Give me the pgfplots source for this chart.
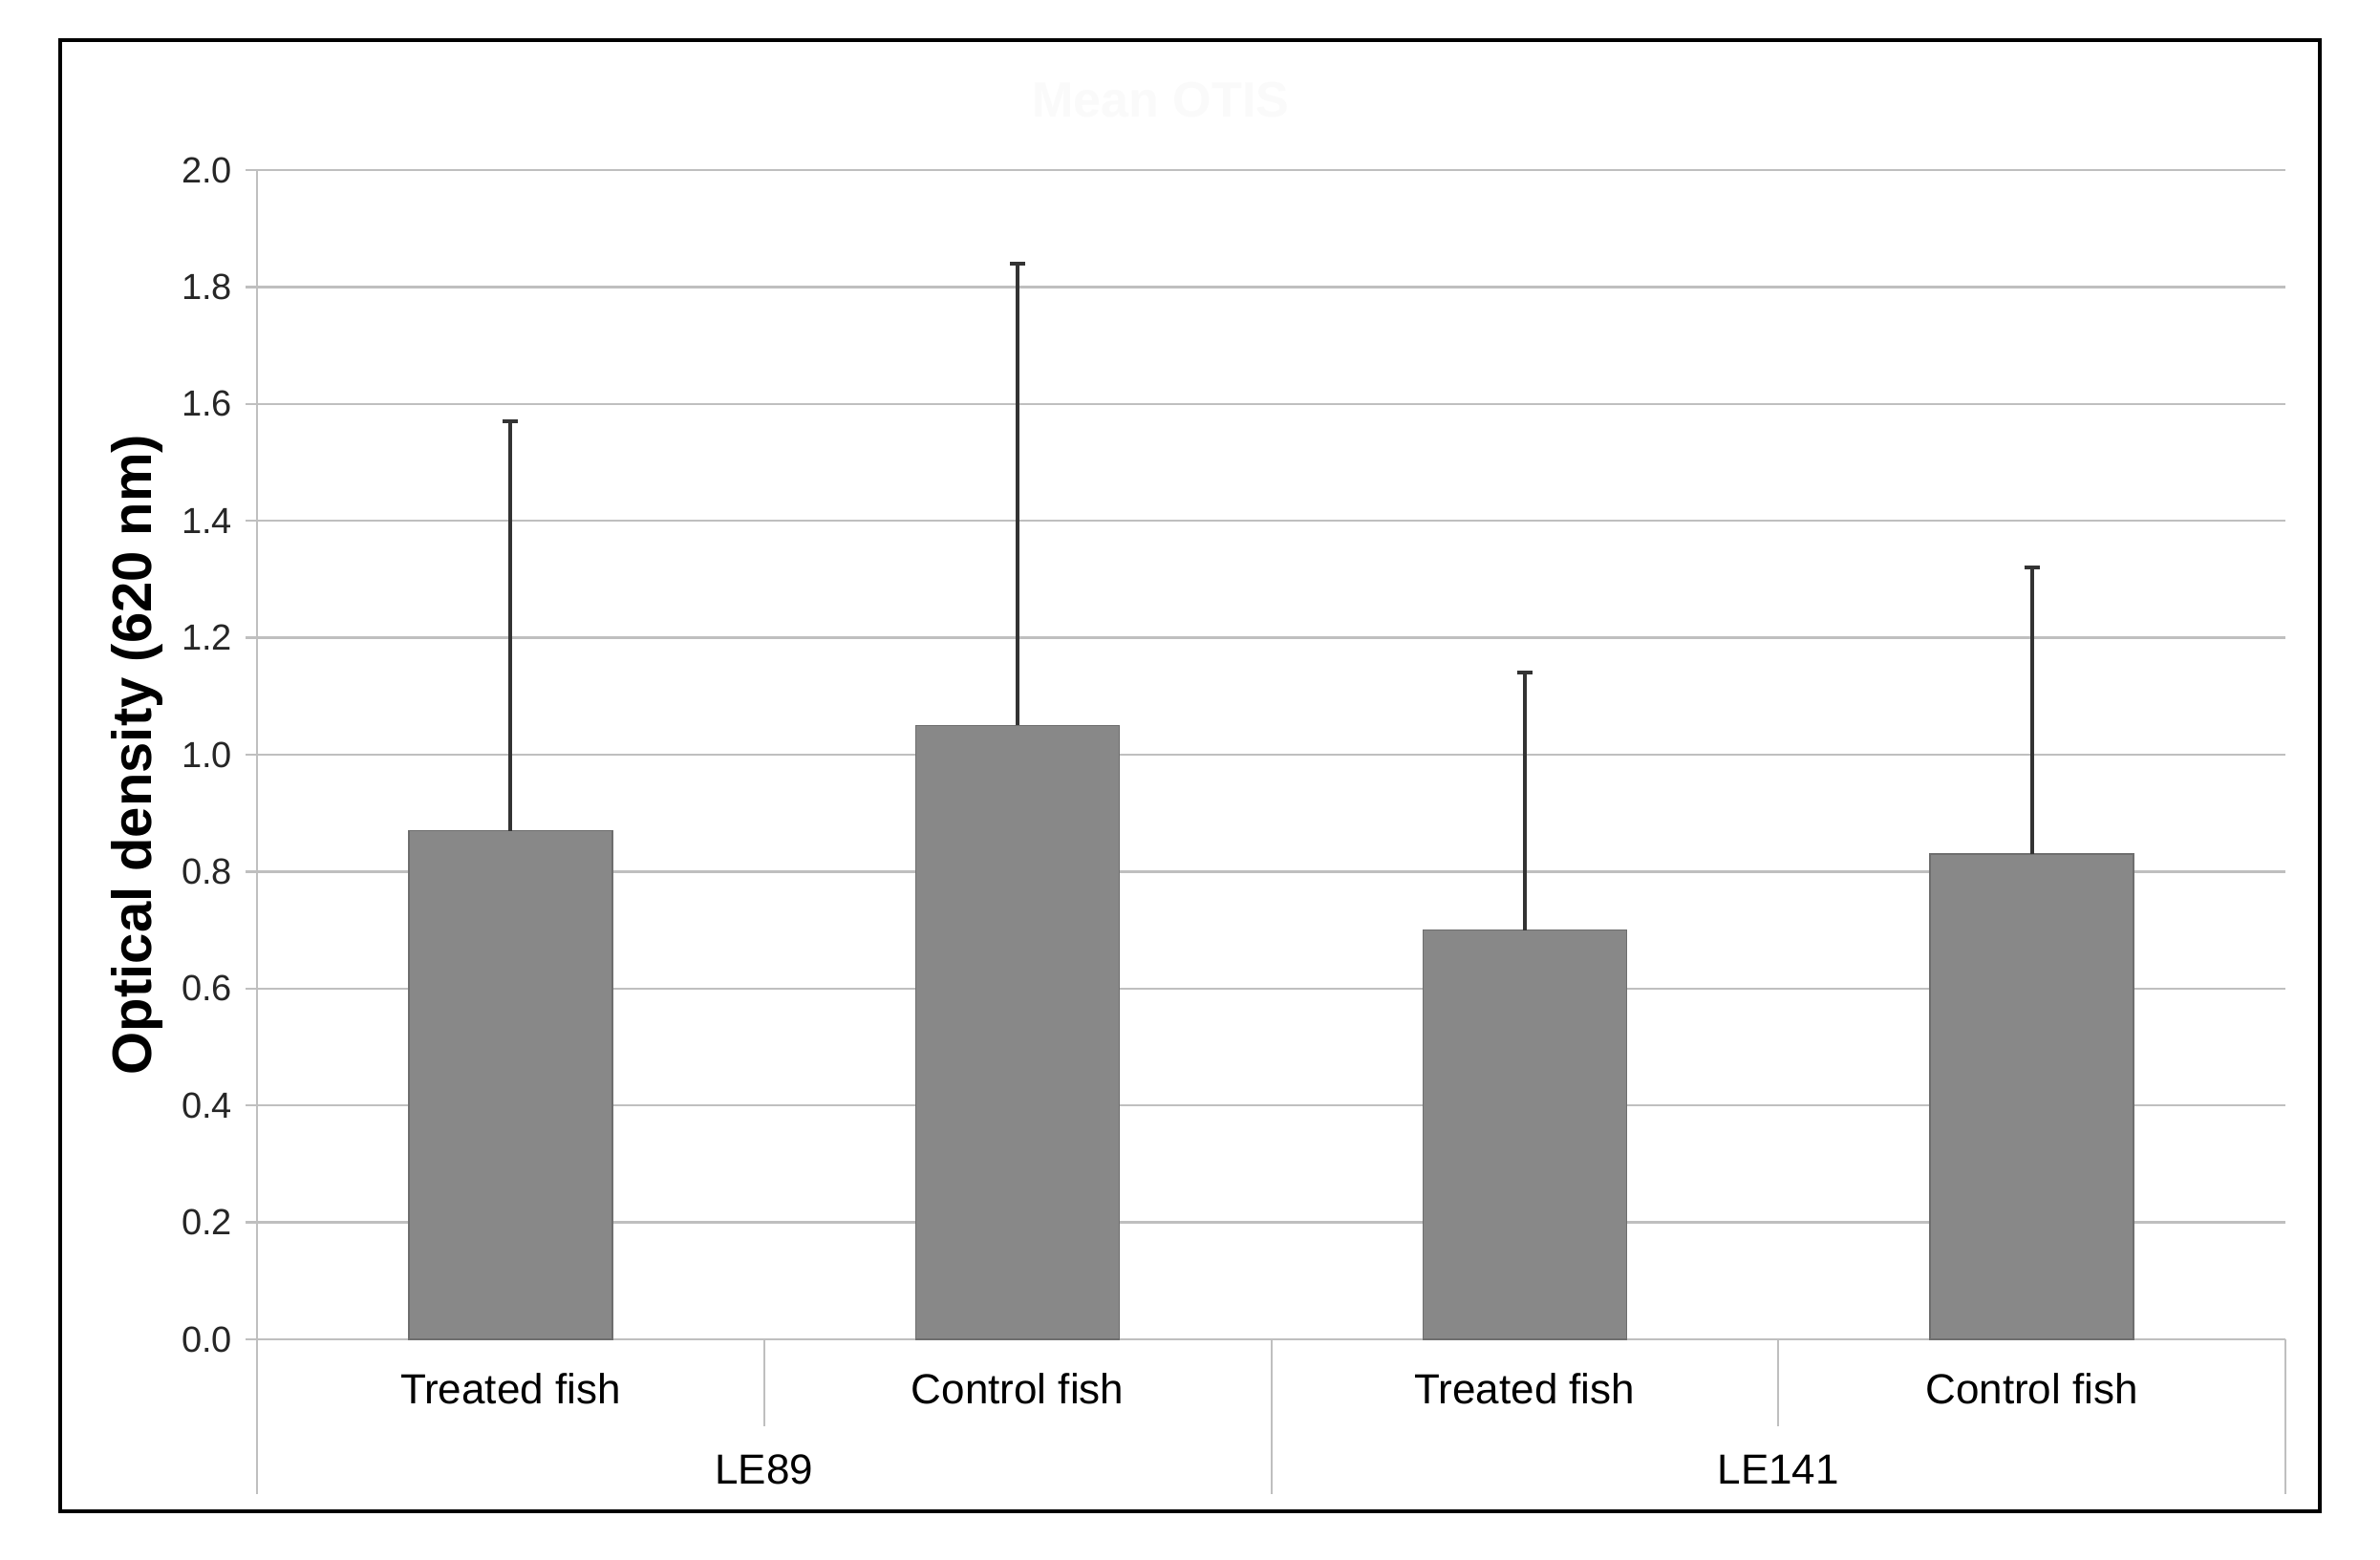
\documentclass[border=0pt]{standalone}
\usepackage{pgfplots}
\pgfplotsset{compat=1.18}
\usepackage{fontspec}
\setmainfont{Liberation Sans}
\definecolor{gridgray}{HTML}{BFBFBF}
\definecolor{barfill}{HTML}{888888}
\definecolor{baredge}{HTML}{6E6E6E}
\begin{document}
\begin{tikzpicture}
\path[use as bounding box] (0,0) rectangle (622.75pt,408.25pt);
\fill[white] (0,0) rectangle (622.75pt,408.25pt);
\draw[line width=0.9pt, black] (15.75pt,12.75pt) rectangle (607pt,397.75pt);
\node[font=\bfseries\fontsize{13}{15}\selectfont, text=black!2] at (303.75pt,382pt) {Mean OTIS};
\begin{axis}[
  at={(67.25pt,57.75pt)}, anchor=south west,
  scale only axis, width=530.75pt, height=306pt,
  ymin=0, ymax=2.0,
  xmin=-0.5, xmax=3.5,
  ybar, bar width=53.25pt,
  axis x line*=bottom, axis y line*=left,
  axis line style={gridgray, line width=0.6pt},
  ytick={0,0.2,...,2.0},
  yticklabel style={/pgf/number format/.cd, fixed, fixed zerofill, precision=1, /tikz/.cd, font=\fontsize{9.5}{11}\selectfont, text=black!85},
  /pgf/number format/assume math mode=true,
  ymajorgrids, grid style={gridgray, line width=0.6pt},
  y tick style={gridgray, line width=0.6pt}, tick align=outside, major tick length=3pt,
  xtick=data, xticklabels={Treated fish, Control fish, Treated fish, Control fish},
  x tick style={draw=none},
  xticklabel style={font=\fontsize{11}{13}\selectfont, anchor=base, yshift=-14pt},
  ylabel={Optical density (620 nm)},
  ylabel style={font=\bfseries\fontsize{14.5}{17}\selectfont, at={(rel axis cs:0,0.5)}, anchor=center, yshift=31.25pt},
  clip=false,
]
\addplot[fill=barfill, draw=baredge, line width=0.4pt,
  error bars/.cd, y dir=plus, y explicit,
  error bar style={line width=1pt, black!80},
  error mark options={rotate=90, line width=1pt, black!80, mark size=2pt}]
  coordinates {
    (0,0.87) +- (0,0.70)
    (1,1.05) +- (0,0.79)
    (2,0.70) +- (0,0.44)
    (3,0.83) +- (0,0.49)
  };
\draw[gridgray, line width=0.5pt] (axis cs:0.5,0) -- ([yshift=-22.75pt]axis cs:0.5,0);
\draw[gridgray, line width=0.5pt] (axis cs:2.5,0) -- ([yshift=-22.75pt]axis cs:2.5,0);
\draw[gridgray, line width=0.5pt] (axis cs:-0.5,0) -- ([yshift=-40.5pt]axis cs:-0.5,0);
\draw[gridgray, line width=0.5pt] (axis cs:1.5,0) -- ([yshift=-40.5pt]axis cs:1.5,0);
\draw[gridgray, line width=0.5pt] (axis cs:3.5,0) -- ([yshift=-40.5pt]axis cs:3.5,0);
\node[font=\fontsize{11}{13}\selectfont, anchor=base] at ([yshift=-38pt]axis cs:0.5,0) {LE89};
\node[font=\fontsize{11}{13}\selectfont, anchor=base] at ([yshift=-38pt]axis cs:2.5,0) {LE141};
\end{axis}
\end{tikzpicture}
\end{document}
